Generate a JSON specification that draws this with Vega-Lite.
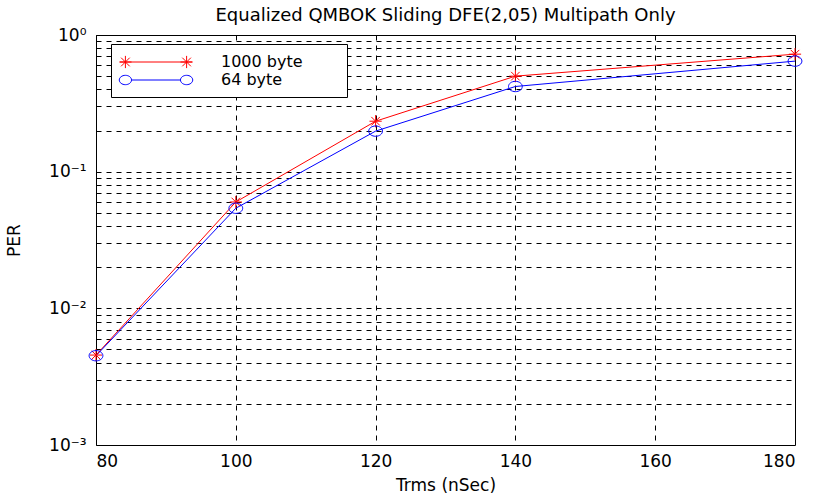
{
  "$schema": "https://vega.github.io/schema/vega-lite/v6.json",
  "width": 699,
  "height": 410,
  "autosize": {"type": "none"},
  "padding": {"left": 96, "top": 35, "right": 20, "bottom": 54},
  "background": "white",
  "config": {
    "font": "DejaVu Sans",
    "view": {"stroke": "black", "strokeWidth": 1}
  },
  "title": {"text": "Equalized QMBOK Sliding DFE(2,05) Multipath Only", "fontSize": 18, "fontWeight": "normal", "color": "black", "offset": 1, "font": "DejaVu Sans"},
  "data": {"values": [
    {"trms": 80, "per": 0.00455, "series": "1000 byte"},
    {"trms": 100, "per": 0.060, "series": "1000 byte"},
    {"trms": 120, "per": 0.234, "series": "1000 byte"},
    {"trms": 140, "per": 0.50, "series": "1000 byte"},
    {"trms": 180, "per": 0.724, "series": "1000 byte"},
    {"trms": 80, "per": 0.0045, "series": "64 byte"},
    {"trms": 100, "per": 0.054, "series": "64 byte"},
    {"trms": 120, "per": 0.198, "series": "64 byte"},
    {"trms": 140, "per": 0.42, "series": "64 byte"},
    {"trms": 180, "per": 0.644, "series": "64 byte"}
  ]},
  "encoding": {
    "x": {"field": "trms", "type": "quantitative",
      "scale": {"domain": [80, 180], "nice": false, "zero": false},
      "axis": {"values": [80, 100, 120, 140, 160, 180], "title": "Trms (nSec)", "titleFontSize": 17, "titleFontWeight": "normal", "titleColor": "black", "titlePadding": 8,
        "labelFontSize": 17, "labelColor": "black", "labelPadding": 8, "ticks": false, "domain": false,
        "grid": true, "gridColor": "black", "gridDash": [5, 5], "gridOpacity": 1, "gridWidth": 1}},
    "y": {"field": "per", "type": "quantitative",
      "scale": {"type": "log", "domain": [0.001, 1], "nice": false},
      "axis": {"values": [0.001, 0.002, 0.003, 0.004, 0.005, 0.006, 0.007, 0.008, 0.009, 0.01, 0.02, 0.03, 0.04, 0.05, 0.06, 0.07, 0.08, 0.09, 0.1, 0.2, 0.3, 0.4, 0.5, 0.6, 0.7, 0.8, 0.9, 1],
        "labelExpr": "datum.value == 1 ? '10⁰' : abs(datum.value - 0.1) < 1e-9 ? '10⁻¹' : abs(datum.value - 0.01) < 1e-10 ? '10⁻²' : abs(datum.value - 0.001) < 1e-11 ? '10⁻³' : ''",
        "title": "PER", "titleFontSize": 17, "titleFontWeight": "normal", "titleColor": "black", "titlePadding": 25,
        "labelFontSize": 17, "labelColor": "black", "labelPadding": 10, "ticks": false, "domain": false, "labelOverlap": false,
        "grid": true, "gridColor": "black", "gridDash": [5, 5], "gridOpacity": 1, "gridWidth": 1}}
  },
  "layer": [
    {"mark": {"type": "line", "strokeWidth": 1},
      "encoding": {"color": {"field": "series", "type": "nominal",
        "scale": {"domain": ["1000 byte", "64 byte"], "range": ["#ff0000", "#0000ff"]},
        "legend": {"title": null, "orient": "none", "legendX": 15, "legendY": 9,
          "strokeColor": "black", "fillColor": "white", "padding": 9,
          "labelFontSize": 16, "labelColor": "black", "labelOffset": 28,
          "labelExpr": "datum.label + '\u2800\u2800\u2800'",
          "symbolSize": 200, "symbolStrokeWidth": 1, "symbolType": "stroke",
          "rowPadding": -4,
          "encode": {
            "symbols": {"update": {
              "shape": {"signal": "datum.value == '1000 byte' ? 'M-1,0H1M-0.85,-0.17V0.17M-1.02,0H-0.68M-0.97,-0.12L-0.73,0.12M-0.97,0.12L-0.73,-0.12M0.85,-0.17V0.17M0.68,0H1.02M0.73,-0.12L0.97,0.12M0.73,0.12L0.97,-0.12' : 'M-0.68,0H0.68M-0.68,0A0.17,0.13 0 1,0 -1.02,0A0.17,0.13 0 1,0 -0.68,0M1.02,0A0.17,0.13 0 1,0 0.68,0A0.17,0.13 0 1,0 1.02,0'"},
              "size": {"value": 5184},
              "x": {"value": 36},
              "y": {"value": 9},
              "fill": {"value": "transparent"}
            }},
            "labels": {"update": {"y": {"value": 9}, "baseline": {"value": "middle"}}}
          }}}}},
    {"transform": [{"filter": "datum.series == '1000 byte'"}],
      "mark": {"type": "point", "filled": false, "strokeWidth": 1, "opacity": 1, "color": "#ff0000", "size": 150,
        "shape": "M-1,0H1M0,-1V1M-0.7,-0.7L0.7,0.7M-0.7,0.7L0.7,-0.7"}},
    {"transform": [{"filter": "datum.series == '64 byte'"}],
      "mark": {"type": "point", "filled": false, "strokeWidth": 1, "opacity": 1, "color": "#0000ff", "size": 190,
        "shape": "M1,0A1,0.75 0 1,0 -1,0A1,0.75 0 1,0 1,0"}}
  ]
}
